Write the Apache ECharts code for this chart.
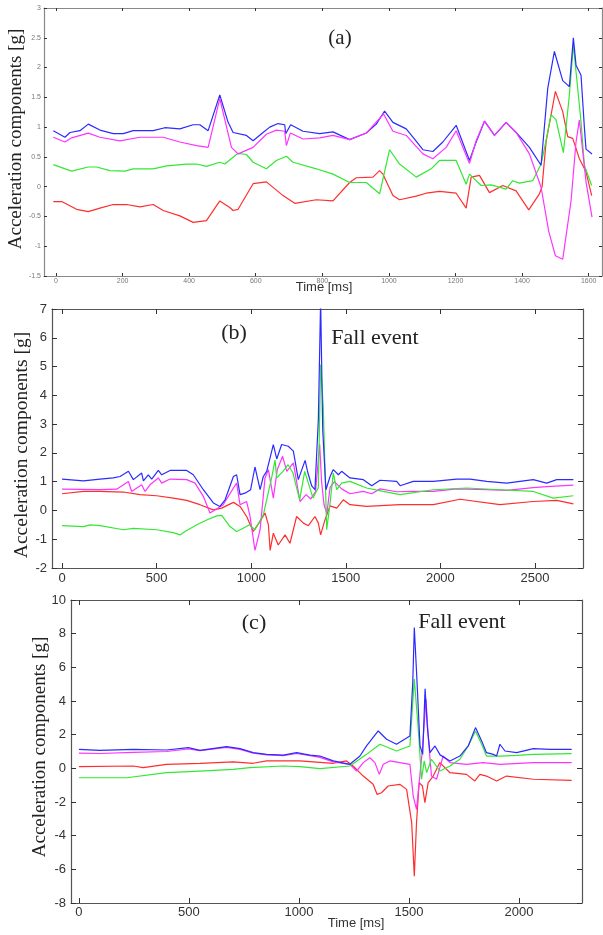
<!DOCTYPE html>
<html><head><meta charset="utf-8">
<script src="https://cdn.jsdelivr.net/npm/echarts@6/dist/echarts.min.js"></script>
<style>html,body{margin:0;padding:0;background:#fff}#c{width:603px;height:935px}</style>
</head><body><div id="c"></div>
<script>
// ---------- Panel (a) ----------
const aXTicks = [0,200,400,600,800,1000,1200,1400,1600];
const aBlue = [[-8,0.94],[27,0.83],[42,0.91],[72,0.94],[97,1.05],[132,0.95],[172,0.89],[202,0.89],[232,0.94],[292,0.94],[327,0.99],[372,0.97],[412,1.04],[432,1.04],[457,0.94],[492,1.54],[517,1.08],[532,0.91],[572,0.86],[592,0.77],[622,0.91],[642,1.0],[667,1.06],[687,1.04],[690,0.89],[705,1.04],[742,0.93],[792,0.89],[832,0.92],[882,0.79],[932,0.90],[962,1.05],[987,1.27],[1012,1.08],[1052,0.97],[1077,0.80],[1102,0.62],[1132,0.59],[1162,0.75],[1202,1.03],[1242,0.44],[1262,0.75],[1287,1.10],[1317,0.86],[1352,1.08],[1382,0.91],[1422,0.66],[1457,0.36],[1477,1.65],[1497,2.27],[1522,1.78],[1542,1.68],[1554,2.50],[1562,2.04],[1577,1.87],[1587,1.0],[1592,0.63],[1610,0.55]];
const aMagenta = [[-8,0.83],[27,0.75],[47,0.82],[97,0.90],[132,0.83],[192,0.77],[252,0.83],[322,0.83],[372,0.75],[422,0.69],[457,0.66],[492,1.48],[527,0.66],[547,0.55],[592,0.66],[632,0.88],[662,0.95],[687,0.93],[692,0.69],[704,0.90],[742,0.80],[792,0.82],[832,0.86],[882,0.79],[932,0.90],[984,1.22],[1012,0.93],[1052,0.86],[1102,0.55],[1132,0.47],[1172,0.66],[1202,0.94],[1242,0.39],[1262,0.77],[1287,1.10],[1317,0.86],[1352,1.08],[1382,0.91],[1422,0.55],[1457,-0.01],[1480,-0.75],[1500,-1.16],[1522,-1.22],[1547,-0.24],[1562,0.75],[1572,1.12],[1592,0.08],[1610,-0.51]];
const aGreen = [[-8,0.37],[47,0.26],[97,0.33],[122,0.33],[162,0.27],[207,0.26],[232,0.30],[292,0.30],[332,0.35],[392,0.38],[422,0.38],[452,0.34],[492,0.41],[507,0.38],[547,0.56],[572,0.54],[592,0.41],[632,0.30],[662,0.44],[692,0.51],[712,0.41],[782,0.30],[832,0.21],[882,0.07],[932,0.07],[972,-0.12],[1002,0.62],[1032,0.38],[1082,0.16],[1127,0.30],[1152,0.44],[1202,0.44],[1232,0.04],[1242,0.21],[1277,0.02],[1307,0.03],[1352,-0.04],[1372,0.10],[1392,0.06],[1432,0.10],[1457,0.38],[1467,0.64],[1487,1.21],[1502,1.12],[1524,0.57],[1542,1.54],[1554,2.38],[1562,1.93],[1577,1.09],[1587,0.36],[1609,0.02]];
const aRed = [[-8,-0.25],[17,-0.25],[62,-0.38],[97,-0.42],[132,-0.36],[172,-0.30],[212,-0.30],[252,-0.34],[292,-0.30],[322,-0.40],[372,-0.49],[412,-0.60],[452,-0.57],[492,-0.24],[522,-0.35],[532,-0.40],[547,-0.38],[592,0.05],[632,0.08],[682,-0.15],[717,-0.28],[782,-0.22],[832,-0.24],[882,0.07],[902,0.15],[952,0.16],[972,0.27],[982,0.21],[1012,-0.15],[1032,-0.22],[1082,-0.16],[1112,-0.11],[1152,-0.08],[1202,-0.11],[1232,-0.36],[1247,0.16],[1272,0.19],[1302,-0.10],[1342,0.02],[1382,-0.07],[1420,-0.39],[1452,-0.12],[1460,0.0],[1472,0.75],[1500,1.60],[1522,1.26],[1537,0.84],[1552,0.81],[1572,0.47],[1592,0.25],[1609,-0.15]];

// ---------- Panel (b) ----------
const bXTicks = [0,500,1000,1500,2000,2500];
const bBlue = [[0,1.09],[113,1.03],[201,1.09],[271,1.13],[307,1.18],[351,1.36],[377,1.07],[421,1.30],[430,1.03],[456,1.24],[474,1.09],[509,1.39],[527,1.24],[571,1.39],[659,1.39],[694,1.24],[747,0.72],[800,0.26],[835,0.14],[862,0.37],[906,1.18],[923,1.24],[941,0.55],[967,0.60],[997,0.72],[1020,1.51],[1047,0.72],[1064,1.18],[1082,1.36],[1117,2.29],[1135,1.79],[1161,2.29],[1196,2.23],[1223,2.06],[1249,1.07],[1285,1.74],[1300,1.30],[1320,0.85],[1337,0.72],[1355,3.16],[1367,7.3],[1378,2.81],[1395,0.72],[1417,1.18],[1434,1.42],[1461,1.24],[1478,1.36],[1522,1.13],[1593,1.07],[1637,0.86],[1681,1.05],[1769,1.01],[1787,0.86],[1857,1.01],[1963,1.01],[2086,1.09],[2157,1.09],[2245,1.01],[2350,0.95],[2491,1.07],[2562,0.95],[2615,1.07],[2703,1.07]];
const bMagenta = [[0,0.74],[201,0.72],[289,0.74],[351,1.01],[368,0.66],[421,0.89],[439,0.66],[465,0.89],[509,1.13],[527,0.95],[571,1.09],[659,1.07],[703,0.95],[747,0.49],[782,-0.09],[817,0.05],[852,0.20],[879,0.49],[906,0.78],[923,0.95],[941,0.20],[976,0.31],[994,-0.21],[1020,-1.39],[1047,-0.67],[1073,1.13],[1091,1.42],[1117,0.43],[1138,1.42],[1166,1.88],[1188,1.36],[1223,1.65],[1258,0.31],[1290,0.55],[1315,0.40],[1340,0.65],[1362,2.30],[1372,1.0],[1385,0.20],[1400,-0.10],[1417,0.80],[1440,1.0],[1478,0.75],[1522,0.58],[1593,0.66],[1637,0.58],[1681,0.75],[1769,0.65],[1857,0.66],[1963,0.66],[2086,0.75],[2245,0.72],[2350,0.70],[2491,0.79],[2562,0.83],[2703,0.88]];
const bGreen = [[0,-0.53],[113,-0.56],[148,-0.50],[201,-0.53],[324,-0.67],[377,-0.62],[500,-0.67],[588,-0.77],[624,-0.85],[650,-0.73],[712,-0.50],[765,-0.33],[817,-0.19],[844,-0.17],[888,-0.56],[923,-0.73],[958,-0.62],[991,-0.50],[1020,-0.67],[1064,-0.15],[1108,1.13],[1126,1.75],[1135,1.13],[1168,1.36],[1195,1.59],[1221,1.30],[1256,0.37],[1283,1.36],[1327,0.43],[1355,0.80],[1367,5.07],[1381,3.60],[1399,-0.67],[1417,0.26],[1434,1.30],[1452,0.72],[1478,0.95],[1522,1.01],[1610,0.78],[1698,0.66],[1787,0.55],[1963,0.72],[2139,0.78],[2315,0.72],[2491,0.66],[2597,0.43],[2703,0.51]];
const bRed = [[0,0.58],[113,0.66],[201,0.66],[324,0.64],[412,0.55],[500,0.51],[588,0.43],[659,0.35],[729,0.20],[800,0.02],[844,0.08],[906,0.28],[941,0.14],[976,-0.21],[1011,-0.73],[1047,-0.38],[1073,-0.09],[1091,-0.50],[1100,-1.39],[1117,-0.79],[1143,-1.20],[1179,-0.85],[1205,-1.14],[1240,-0.21],[1276,-0.44],[1302,-0.53],[1337,-0.21],[1355,-0.44],[1367,-0.85],[1390,-0.33],[1417,0.16],[1452,0.08],[1487,0.37],[1522,0.20],[1610,0.14],[1787,0.20],[1963,0.20],[2104,0.39],[2315,0.20],[2491,0.31],[2615,0.35],[2703,0.23]];

// ---------- Panel (c) ----------
const cXTicks = [0,500,1000,1500,2000];
const cBlue = [[0,1.13],[95,1.07],[247,1.13],[398,1.09],[497,1.23],[550,1.07],[671,1.29],[732,1.17],[792,0.93],[853,0.83],[929,0.79],[989,0.93],[1050,0.79],[1095,0.73],[1156,0.44],[1231,0.24],[1277,0.73],[1307,1.33],[1360,2.22],[1398,1.73],[1443,1.43],[1504,1.92],[1517,5.1],[1524,8.37],[1535,5.5],[1550,1.33],[1562,0.83],[1573,4.72],[1583,2.5],[1595,0.93],[1618,1.33],[1641,0.80],[1686,0.44],[1731,0.73],[1769,1.33],[1802,2.42],[1830,1.63],[1852,0.93],[1883,0.83],[1898,0.73],[1913,1.43],[1936,1.03],[1989,0.93],[2065,1.17],[2140,1.13],[2239,1.13]];
const cMagenta = [[0,0.90],[95,0.88],[247,0.95],[398,1.0],[497,1.15],[550,1.05],[671,1.25],[732,1.13],[792,0.90],[853,0.80],[929,0.76],[989,0.88],[1050,0.75],[1095,0.65],[1156,0.38],[1231,0.24],[1262,-0.16],[1292,0.34],[1322,0.63],[1345,0.34],[1365,-0.36],[1383,0.24],[1413,0.44],[1504,0.24],[1519,-1.65],[1534,-2.44],[1549,-0.46],[1561,1.13],[1577,4.11],[1587,1.92],[1602,-0.46],[1625,-0.65],[1655,0.73],[1686,0.34],[1761,0.24],[1837,0.34],[1913,0.24],[2065,0.34],[2239,0.34]];
const cGreen = [[0,-0.56],[95,-0.56],[217,-0.56],[398,-0.26],[550,-0.16],[701,-0.06],[777,0.04],[929,0.14],[1004,0.10],[1095,-0.02],[1231,0.14],[1307,0.83],[1368,1.43],[1443,1.03],[1504,1.33],[1524,5.30],[1542,2.32],[1557,-0.65],[1569,0.44],[1580,-0.26],[1602,0.54],[1640,-0.16],[1686,0.14],[1731,0.54],[1769,1.33],[1802,2.22],[1830,1.43],[1852,0.73],[1913,0.73],[1989,0.77],[2065,0.83],[2239,0.87]];
const cRed = [[0,0.10],[247,0.14],[292,0.04],[398,0.24],[550,0.30],[701,0.38],[792,0.30],[853,0.44],[1004,0.44],[1156,0.30],[1216,0.44],[1246,0.14],[1292,-0.46],[1337,-0.95],[1355,-1.55],[1375,-1.45],[1405,-1.05],[1458,-0.95],[1489,-1.25],[1512,-3.23],[1524,-6.41],[1534,-3.23],[1546,-0.85],[1561,-1.05],[1572,-2.04],[1587,-0.85],[1610,-0.46],[1640,0.34],[1686,-0.26],[1761,-0.36],[1799,-0.75],[1822,-0.36],[1852,-0.46],[1898,-0.75],[1943,-0.46],[2065,-0.65],[2239,-0.71]];

const yLabel = 'Acceleration components [g]';
const xLabel = 'Time [ms]';

const COL = {red:'#ff2e2e', green:'#33e833', blue:'#2b2bff', magenta:'#ff33ff'};
const panels = [
  {grid:{left:44,top:8,width:558,height:268}, xMin:-36, xMax:1640, xTicks:aXTicks, yMin:-1.5, yMax:3, yStep:0.5,
   fs:7, lc:'#777', frame:'#888', tl:3, xm:2, ym:3, s:[aRed,aGreen,aBlue,aMagenta]},
  {grid:{left:52,top:309,width:531,height:259}, xMin:-53, xMax:2754, xTicks:bXTicks, yMin:-2, yMax:7, yStep:1,
   fs:13, lc:'#333', frame:'#555', tl:5, xm:4, ym:5, s:[bRed,bMagenta,bGreen,bBlue]},
  {grid:{left:71,top:600,width:511,height:303}, xMin:-36, xMax:2286, xTicks:cXTicks, yMin:-8, yMax:10, yStep:2,
   fs:13, lc:'#333', frame:'#555', tl:5, xm:3, ym:5, s:[cRed,cMagenta,cGreen,cBlue]}
];
const sColors = [[COL.red,COL.green,COL.blue,COL.magenta],[COL.red,COL.magenta,COL.green,COL.blue],[COL.red,COL.magenta,COL.green,COL.blue]];
const plain = v => String(v);

const grid=[], xAxis=[], yAxis=[], series=[];
panels.forEach((p,i)=>{
  grid.push(p.grid);
  const line = {show:true, onZero:false, lineStyle:{color:p.frame, width:1.2}};
  const lab = {fontSize:p.fs, color:p.lc, fontFamily:'Liberation Sans, Arial, sans-serif', formatter:plain};
  xAxis.push({type:'value', gridIndex:i, min:p.xMin, max:p.xMax, position:'bottom', axisLine:line,
    axisTick:{inside:true, length:p.tl, customValues:p.xTicks, lineStyle:{color:'#333'}},
    axisLabel:Object.assign({customValues:p.xTicks, margin:p.xm}, lab), splitLine:{show:false}});
  xAxis.push({type:'value', gridIndex:i, min:p.xMin, max:p.xMax, position:'top', axisLine:line,
    axisTick:{inside:true, length:p.tl, customValues:p.xTicks, lineStyle:{color:'#333'}},
    axisLabel:{show:false}, splitLine:{show:false}});
  yAxis.push({type:'value', gridIndex:i, min:p.yMin, max:p.yMax, interval:p.yStep, position:'left', axisLine:line,
    axisTick:{inside:true, length:p.tl, lineStyle:{color:'#333'}},
    axisLabel:Object.assign({margin:p.ym, showMinLabel:true, showMaxLabel:true}, lab), splitLine:{show:false}});
  yAxis.push({type:'value', gridIndex:i, min:p.yMin, max:p.yMax, interval:p.yStep, position:'right', axisLine:line,
    axisTick:{inside:true, length:p.tl, lineStyle:{color:'#333'}},
    axisLabel:{show:false}, splitLine:{show:false}});
  p.s.forEach((d,k)=>{
    series.push({type:'line', xAxisIndex:2*i, yAxisIndex:2*i, data:d, showSymbol:false, symbol:'none',
      clip:true, lineStyle:{color:sColors[i][k], width:1.2}, itemStyle:{color:sColors[i][k]}, silent:true});
  });
});

const serif = 'Liberation Serif, Times New Roman, serif';
const sans = 'Liberation Sans, Arial, sans-serif';
function txt(x,y,t,fs,font,rot,color){
  return {type:'text', x:x, y:y, rotation:rot||0, silent:true,
    style:{text:t, fontSize:fs, fontFamily:font, fill:color||'#222', align:'center', verticalAlign:'middle'}};
}
const graphic = [
  txt(16.5,139,yLabel,19,serif,Math.PI/2),
  txt(21.5,445,yLabel,19.5,serif,Math.PI/2),
  txt(40,747,yLabel,19,serif,Math.PI/2),
  txt(340,38,'(a)',21,serif),
  txt(234,333,'(b)',22,serif),
  txt(254,623,'(c)',22,serif),
  txt(375,338,'Fall event',22,serif),
  txt(462,622,'Fall event',22,serif),
  txt(324,287,xLabel,13,sans,0,'#333'),
  txt(356,923,xLabel,13,sans,0,'#333')
];

const chart = echarts.init(document.getElementById('c'));
chart.setOption({animation:false, backgroundColor:'#fff', grid, xAxis, yAxis, series, graphic});
</script></body></html>
